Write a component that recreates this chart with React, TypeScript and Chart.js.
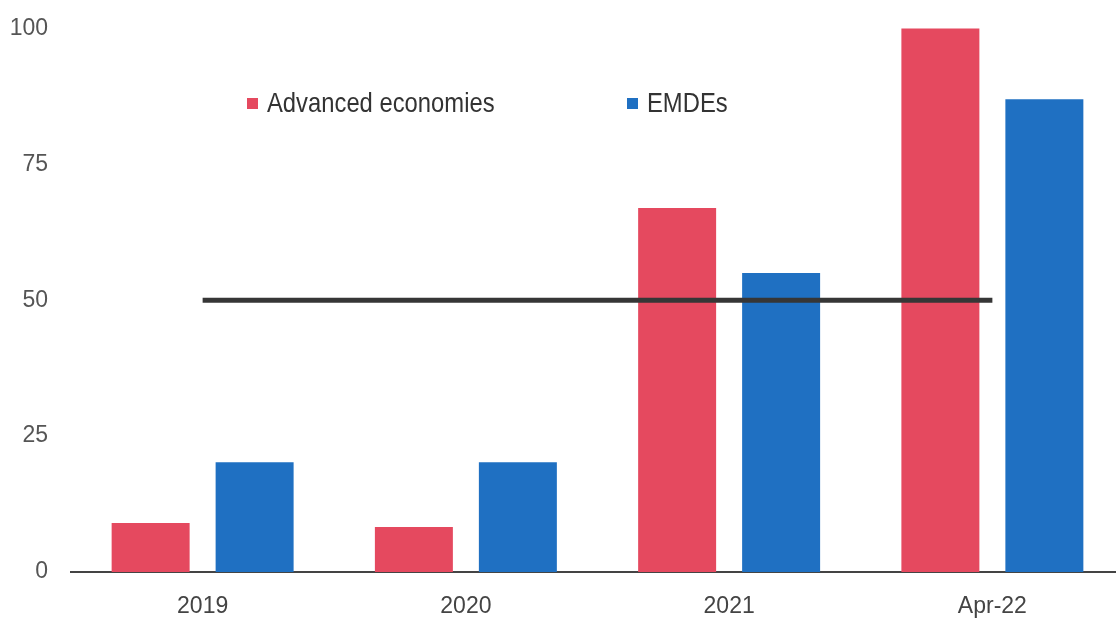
import React, { useEffect, useRef } from "react";
import { Chart, registerables } from "chart.js";

Chart.register(...registerables);

const categories = ["2019", "2020", "2021", "Apr-22"];
const advancedValues = [9, 8.3, 67, 100];
const emdeValues = [20.2, 20.2, 55, 87];
const thresholdValues = [50, 50, 50, 50];
const yTicks = [0, 25, 50, 75, 100];

const RED = "#e5495f";
const BLUE = "#1f70c2";
const FONT = "'Liberation Sans', Arial, sans-serif";

export default function App() {
  const ref = useRef<HTMLCanvasElement | null>(null);

  useEffect(() => {
    if (!ref.current) return;
    const chart = new Chart(ref.current, {
      type: "bar",
      data: {
        labels: categories,
        datasets: [
          {
            type: "line",
            label: "Threshold",
            data: thresholdValues,
            borderColor: "#363636",
            borderWidth: 5,
            pointRadius: 0,
            fill: false,
            order: 0,
          } as any,
          {
            label: "Advanced economies",
            data: advancedValues,
            backgroundColor: RED,
            barPercentage: 0.75,
            categoryPercentage: 0.79,
            order: 1,
          },
          {
            label: "EMDEs",
            data: emdeValues,
            backgroundColor: BLUE,
            barPercentage: 0.75,
            categoryPercentage: 0.79,
            order: 1,
          },
        ],
      },
      options: {
        responsive: false,
        animation: false,
        layout: { padding: { top: 17, right: 0, bottom: 0, left: 0 } },
        plugins: { legend: { display: false }, tooltip: { enabled: false } },
        scales: {
          x: {
            offset: true,
            grid: { display: false },
            border: { display: true, color: "#444", width: 2 },
            ticks: {
              color: "#444",
              padding: 13,
              font: { family: FONT, size: 23 },
            },
            afterFit: (s: any) => {
              s.height = 51;
            },
          },
          y: {
            min: 0,
            max: 101.8,
            afterBuildTicks: (s: any) => {
              s.ticks = yTicks.map((v) => ({ value: v }));
            },
            grid: { display: false },
            border: { display: false },
            ticks: {
              color: "#555",
              padding: 15,
              font: { family: FONT, size: 23 },
            },
            afterFit: (s: any) => {
              s.width = 71;
            },
          },
        },
      },
    });
    return () => chart.destroy();
  }, []);

  const legendText: React.CSSProperties = {
    position: "absolute",
    fontFamily: FONT,
    fontSize: 28,
    color: "#333",
    lineHeight: "30px",
    top: 88,
    whiteSpace: "nowrap",
    transform: "scaleX(0.85)",
    transformOrigin: "left center",
  };
  const sq = (c: string): React.CSSProperties => ({
    position: "absolute",
    width: 11,
    height: 11,
    background: c,
    top: 98,
  });

  return (
    <div
      style={{
        position: "absolute",
        left: 0,
        top: 0,
        width: 1116,
        height: 623,
        overflow: "hidden",
        background: "#fff",
      }}
    >
      <canvas
        ref={ref}
        width={1124}
        height={633}
        style={{ display: "block", position: "absolute", left: 0, top: -10 }}
      />
      <div style={{ ...sq(RED), left: 247 }} />
      <div style={{ ...legendText, left: 267 }}>Advanced economies</div>
      <div style={{ ...sq(BLUE), left: 627 }} />
      <div style={{ ...legendText, left: 647 }}>EMDEs</div>
    </div>
  );
}
